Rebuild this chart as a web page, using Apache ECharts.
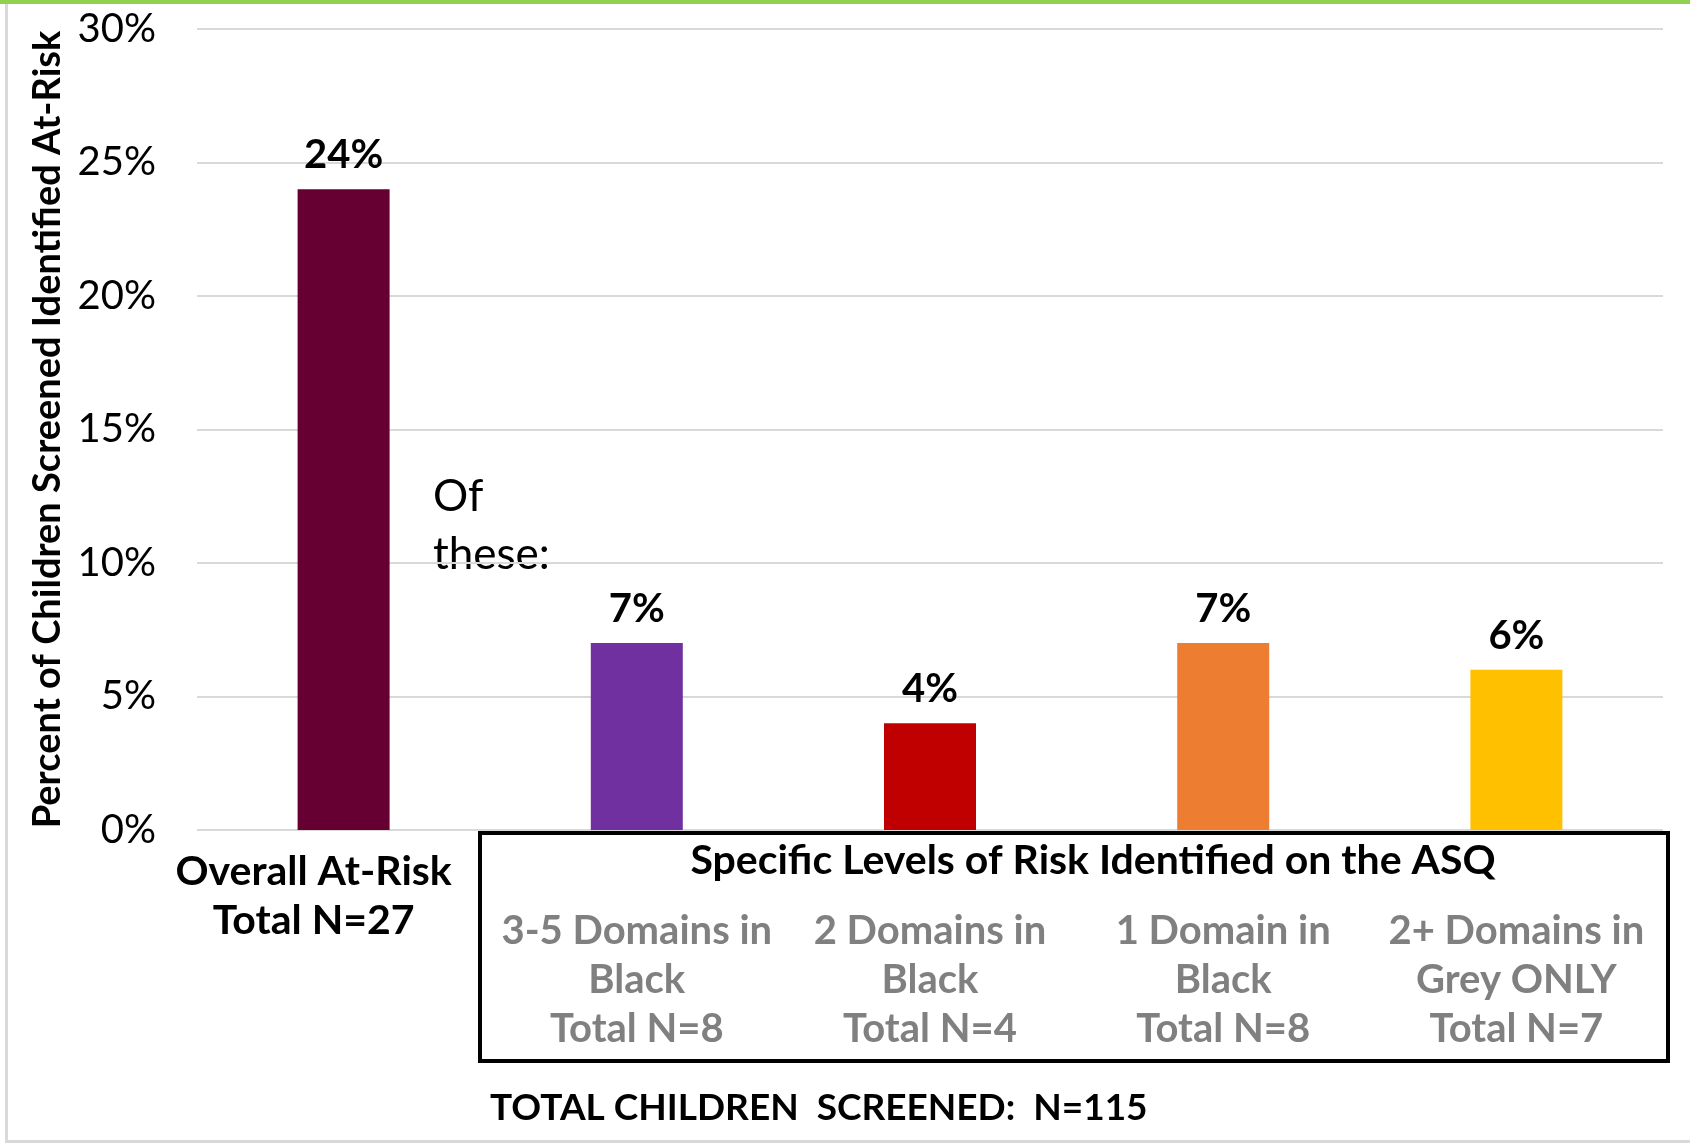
<!DOCTYPE html>
<html>
<head>
<meta charset="UTF-8">
<title>ASQ at-risk</title>
<style>
    html, body { margin: 0; padding: 0; background: #fff; }
    #chartArea { width: 1690px; height: 1143px; }
</style>
<script src="https://cdn.jsdelivr.net/npm/echarts@6/dist/echarts.min.js"></script>
</head>
<body>
<div id="chartArea"></div>
<script>
// values
var categories = ['Overall At-Risk', '3-5 Domains in\nBlack', '2 Domains in\nBlack', '1 Domain in\nBlack', '2+ Domains in\nGrey ONLY'];
var totals = [27, 8, 4, 8, 7];
var percents = [24, 7, 4, 7, 6];
var barColors = ['#660033', '#7030A0', '#C00000', '#ED7D31', '#FFC000'];
var yTicks = [0, 5, 10, 15, 20, 25, 30];
var totalScreened = 115;

var FONT = 'Lato, "Open Sans", sans-serif';

var myChart = echarts.init(document.getElementById('chartArea'));

myChart.setOption({
    animation: false,
    backgroundColor: '#fff',
    grid: { left: 197, right: 27, top: 29, bottom: 313, outerBoundsMode: 'none', containLabel: false },
    xAxis: {
        type: 'category',
        data: categories,
        axisLine: { show: false },
        axisTick: { show: false },
        axisLabel: {
            interval: 0,
            margin: 17,
            formatter: function (val, idx) {
                var lines = val.split('\n');
                lines.push('Total N=' + totals[idx]);
                if (idx === 0) {
                    return lines.map(function (l) { return '{k|' + l + '}'; }).join('\n');
                }
                return '{sp| }\n' + lines.map(function (l) { return '{g|' + l + '}'; }).join('\n');
            },
            rich: {
                // the first label sits a little left of its bar in the original
                k: { fontFamily: FONT, fontWeight: 'bold', fontSize: 41, lineHeight: 49, color: '#000', padding: [0, 60, 0, 0] },
                g: { fontFamily: FONT, fontWeight: 'bold', fontSize: 40, lineHeight: 49, color: '#808080' },
                sp: { fontSize: 10, lineHeight: 60 }
            }
        }
    },
    yAxis: {
        type: 'value',
        min: yTicks[0],
        max: yTicks[yTicks.length - 1],
        interval: 5,
        name: 'Percent of Children Screened Identified At-Risk',
        nameLocation: 'middle',
        nameRotate: 90,
        nameGap: 130,
        nameTextStyle: { fontFamily: FONT, fontWeight: 'bold', fontSize: 38, color: '#000' },
        axisLine: { show: false },
        axisTick: { show: false },
        axisLabel: {
            margin: 41,
            fontFamily: FONT,
            fontSize: 40,
            color: '#000',
            formatter: '{value}%'
        },
        splitLine: { lineStyle: { color: '#D9D9D9', width: 2 } }
    },
    series: [{
        type: 'bar',
        barWidth: 92,
        data: percents.map(function (v, i) {
            return { value: v, itemStyle: { color: barColors[i] } };
        }),
        label: {
            show: true,
            position: 'top',
            distance: 14,
            fontFamily: FONT,
            fontWeight: 'bold',
            fontSize: 40,
            color: '#000',
            formatter: '{c}%'
        }
    }],
    graphic: [
        // green rule at top and grey frame
        { type: 'rect', shape: { x: 0, y: 0, width: 1690, height: 4 }, style: { fill: '#92D050' } },
        { type: 'rect', shape: { x: 5, y: 4, width: 3, height: 1139 }, style: { fill: '#D9D9D9' } },
        { type: 'rect', shape: { x: 5, y: 1140, width: 1685, height: 3 }, style: { fill: '#D9D9D9' } },
        // box around the specific-level labels
        {
            type: 'rect', z: -1,
            shape: { x: 480, y: 833, width: 1188, height: 228 },
            style: { fill: 'none', stroke: '#000', lineWidth: 4 }
        },
        {
            type: 'text',
            style: {
                text: 'Specific Levels of Risk Identified on the ASQ',
                x: 1093, y: 861, textAlign: 'center', textVerticalAlign: 'middle',
                fontFamily: FONT, fontWeight: 'bold', fontSize: 41, fill: '#000'
            }
        },
        {
            type: 'text',
            style: {
                text: 'Of\nthese:',
                x: 433, y: 468,
                fontFamily: FONT, fontSize: 44, lineHeight: 58, fill: '#000'
            }
        },
        {
            type: 'text',
            style: {
                text: 'TOTAL CHILDREN  SCREENED:  N=' + totalScreened,
                x: 490, y: 1108, textVerticalAlign: 'middle',
                fontFamily: FONT, fontWeight: 'bold', fontSize: 37, fill: '#000'
            }
        }
    ]
});
</script>
</body>
</html>
